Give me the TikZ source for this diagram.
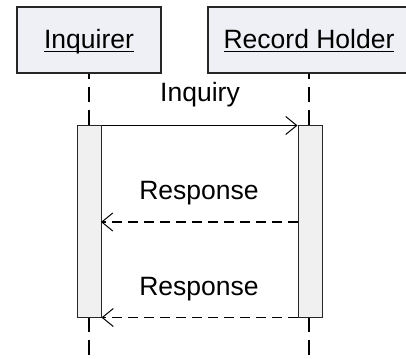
\documentclass[tikz,border=0pt]{standalone}
\usepackage{fontspec}
\setmainfont{Liberation Sans}
\usetikzlibrary{arrows.meta}
\definecolor{headfill}{RGB}{238,240,245}
\definecolor{actfill}{RGB}{240,240,240}
\newcommand\myul[1]{\setbox0\hbox{#1}\rlap{\rule[-3.5pt]{\wd0}{1.3pt}}\box0}
\begin{document}
\begin{tikzpicture}[x=1pt,y=-1pt,
  headbox/.style={draw=black!85, fill=headfill, line width=1.3pt, minimum height=66pt, inner sep=0pt},
  actbox/.style={draw=black!85, fill=actfill, line width=1pt, minimum width=24pt, minimum height=191pt, inner sep=0pt},
  txt/.style={anchor=base, inner sep=0pt, font=\fontsize{26.5}{30}\selectfont},
  lifeline/.style={draw=black, line width=1.3pt, dash pattern=on 15pt off 8pt, dash phase=10pt},
  msg/.style={draw=black, line width=1.2pt, -{Straight Barb[length=11pt,width=18pt,line width=1pt]}},
  reply/.style={msg, dash pattern=on 10pt off 6pt}]
\useasboundingbox (0,0) rectangle (406,358);
\fill[white] (0,0) rectangle (406,358);
% headers
\node[headbox, minimum width=144pt] (hL) at (89,40) {};
\node[headbox, minimum width=202pt] (hR) at (309,40) {};
\node[txt] (tL) at (89,49) {\myul{Inquirer}};
\node[txt] (tR) at (309,49) {\myul{Record Holder}};
% lifelines
\coordinate (endL) at (89,358);
\coordinate (endR) at (309,358);
\draw[lifeline] (hL.south) -- (endL);
\draw[lifeline] (hR.south) -- (endR);
% activations
\node[actbox] (aL) at (89,221.5) {};
\node[actbox] (aR) at (310,221.5) {};
% messages
\draw[msg] (aL.north east) -- (aR.north west);
\node[txt] (m1) at (200,102) {Inquiry};
\coordinate (r1s) at (298,222);
\coordinate (r1e) at (101,222);
\draw[reply] (r1s) -- (r1e);
\node[txt] (m2) at (199,199) {Response};
\draw[reply] (aR.south west) -- (aL.south east);
\node[txt] (m3) at (199,295) {Response};
\end{tikzpicture}
\end{document}
